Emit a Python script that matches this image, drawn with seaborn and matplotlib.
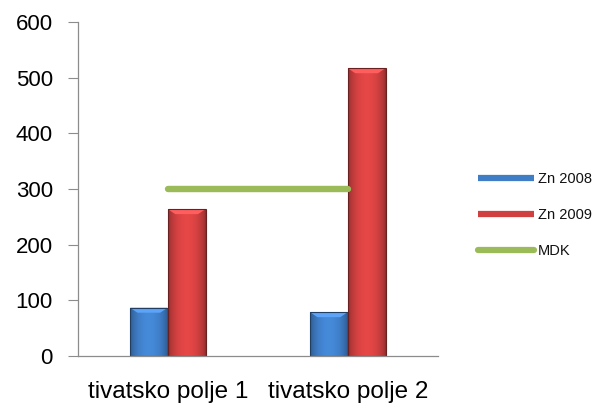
import numpy as np
import pandas as pd
import matplotlib
matplotlib.use("Agg")
import matplotlib.pyplot as plt
from matplotlib.lines import Line2D
from matplotlib.colors import to_rgb
import seaborn as sns

# Data
categories = ["tivatsko polje 1", "tivatsko polje 2"]
zn_2008 = [87, 79]
zn_2009 = [264, 517]
mdk = [300, 300]
series_names = ["Zn 2008", "Zn 2009"]
y_ticks = [0, 100, 200, 300, 400, 500, 600]

colors = {"Zn 2008": "#3F7DC6", "Zn 2009": "#D14040"}
mdk_color = "#9BBB59"

df = pd.DataFrame({
    "site": categories * 2,
    "series": [series_names[0]] * 2 + [series_names[1]] * 2,
    "value": zn_2008 + zn_2009,
})

sns.set_theme(style="white")
plt.rcParams["font.family"] = ["Liberation Sans", "DejaVu Sans"]

fig = plt.figure(figsize=(5.98, 4.07), dpi=100)
ax = fig.add_axes([0.130, 0.125, 0.602, 0.821])

sns.barplot(data=df, x="site", y="value", hue="series", palette=colors,
            width=0.42, dodge=True, ax=ax, legend=False, saturation=1,
            edgecolor="none")

# Shade each bar with a horizontal gradient and a lighter top bevel
for patch in ax.patches:
    x0, y0 = patch.get_x(), patch.get_y()
    w, h = patch.get_width(), patch.get_height()
    base = np.array(to_rgb(patch.get_facecolor()))
    t = np.linspace(0, 1, 64)
    shade = 0.68 + 0.42 * np.sin(np.pi * t) ** 0.6
    img = np.clip(base[None, :] * shade[:, None], 0, 1)[None, :, :]
    im = ax.imshow(img, extent=[x0, x0 + w, y0, y0 + h], aspect="auto",
                   zorder=patch.get_zorder() + 0.1, interpolation="bilinear")
    im.set_clip_path(patch)
    bevel = 9.0
    top = y0 + h
    ax.fill([x0, x0 + w, x0 + w - w * 0.2, x0 + w * 0.2],
            [top, top, top - bevel, top - bevel],
            color=np.clip(base * 1.15 + 0.08, 0, 1), zorder=patch.get_zorder() + 0.2,
            lw=0)
    ax.add_patch(plt.Rectangle((x0, y0), w, h, fill=False,
                               edgecolor=np.clip(base * 0.5, 0, 1), lw=0.8,
                               zorder=patch.get_zorder() + 0.3))

# MDK threshold line across the category centres
ax.plot([0, 1], mdk, color=mdk_color, lw=4.6, solid_capstyle="round", zorder=5)

ax.set_xlim(-0.5, 1.5)
ax.set_ylim(0, 600)
ax.set_yticks(y_ticks)
ax.set_yticklabels([str(v) for v in y_ticks], fontsize=16, color="#000000")
ax.set_xlabel("")
ax.set_ylabel("")
ax.set_xticks([0, 1])
ax.set_xticklabels(categories, fontsize=17.5, color="#000000")
ax.set_xticks([-0.5, 0.5, 1.5], minor=True)
ax.tick_params(axis="x", which="major", length=0, pad=18)
ax.tick_params(axis="x", which="minor", length=5, width=0.8, color="#8c8c8c", direction="out")
ax.tick_params(axis="y", which="major", length=7, width=0.8, color="#8c8c8c",
               direction="out", left=True, pad=11)

for side in ("top", "right"):
    ax.spines[side].set_visible(False)
for side in ("left", "bottom"):
    ax.spines[side].set_color("#8c8c8c")
    ax.spines[side].set_linewidth(0.9)

handles = [
    Line2D([], [], color=colors["Zn 2008"], lw=4.5, solid_capstyle="butt"),
    Line2D([], [], color=colors["Zn 2009"], lw=4.5, solid_capstyle="butt"),
    Line2D([], [], color=mdk_color, lw=4.5, solid_capstyle="round"),
]
fig.legend(handles, ["Zn 2008", "Zn 2009", "MDK"], loc="upper left",
           bbox_to_anchor=(0.79, 0.591), frameon=False, fontsize=10.5,
           handlelength=3.8, handletextpad=0.3, labelspacing=1.5,
           borderaxespad=0, labelcolor="#111111")

fig.savefig("out.png", dpi=100, facecolor="white")
